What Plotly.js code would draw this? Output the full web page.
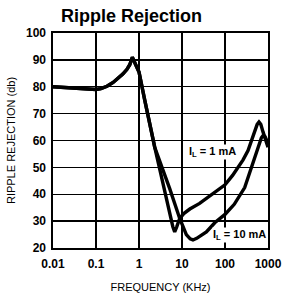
<!DOCTYPE html>
<html>
<head>
<meta charset="utf-8">
<script src="https://cdn.plot.ly/plotly-3.0.1.min.js"></script>
<style>html,body{margin:0;padding:0;background:#fff;}#chart{width:282px;height:295px;}</style>
</head>
<body>
<div id="chart"></div>
<script>
// Frequency (kHz) and ripple rejection (dB)
const freq1mA = [0.01, 0.05, 0.1, 0.13, 0.18, 0.25, 0.33, 0.42, 0.52, 0.61, 0.70, 1.0, 1.36, 1.77, 2.32, 6.1, 6.76, 7.5, 8.85, 11, 15.2, 25.7, 57.7, 100, 150, 200, 263, 343, 470, 560, 617, 680, 766, 1000];
const rej1mA  = [80, 79.5, 79, 79.3, 80.2, 81.6, 83.1, 84.7, 86.4, 88.2, 91, 85.5, 75, 66.3, 57.5, 28, 26, 27.8, 31, 32.8, 34.5, 36.6, 40.6, 43.5, 47, 50, 52.8, 56.25, 62.5, 66, 66.9, 66, 63.2, 57.5];

const freq10mA = [0.01, 0.05, 0.1, 0.13, 0.18, 0.25, 0.33, 0.42, 0.52, 0.61, 0.70, 1.0, 1.36, 1.77, 2.32, 5.2, 8.85, 12.6, 15.5, 18, 22, 36.9, 57.7, 100, 164, 287, 411, 537, 702, 780, 850, 1000];
const rej10mA  = [80, 79.5, 79, 79.3, 80.2, 81.6, 83.1, 84.7, 86.4, 88.2, 91, 85.5, 75, 66.3, 57.5, 42, 31, 25, 23.4, 23, 23.6, 26, 29.4, 32.5, 36.25, 42.5, 50, 56.25, 61, 62, 61.5, 59];

const xTickVals = [0.01, 0.1, 1, 10, 100, 1000];
const xTickText = ['0.01', '0.1', '1', '10', '100', '1000'];
const yTickVals = [20, 30, 40, 50, 60, 70, 80, 90, 100];

const labels = [
  {text: 'I<sub>L</sub> = 1 mA', x: 51.8, y: 55.6},
  {text: 'I<sub>L</sub> = 10 mA', x: 222, y: 24.9}
];

const lineStyle = {color: '#000', width: 3.4};
const traces = [
  {x: freq1mA, y: rej1mA, mode: 'lines', line: lineStyle, name: 'IL = 1 mA', hoverinfo: 'skip'},
  {x: freq10mA, y: rej10mA, mode: 'lines', line: lineStyle, name: 'IL = 10 mA', hoverinfo: 'skip'}
];

const font = 'Liberation Sans, Arial, sans-serif';
const layout = {
  width: 282, height: 295,
  margin: {l: 53, r: 14, t: 33, b: 47},
  paper_bgcolor: '#fff', plot_bgcolor: '#fff',
  showlegend: false,
  font: {family: font, color: '#000'},
  title: {text: 'Ripple Rejection', font: {family: font, size: 18, weight: 'bold', color: '#000'},
          xref: 'container', yref: 'container', x: 0.466, xanchor: 'center', y: 0.948, yanchor: 'middle'},
  xaxis: {
    type: 'log', range: [-2, 3],
    tickvals: xTickVals, ticktext: xTickText,
    showgrid: true, gridcolor: '#000', gridwidth: 1.3,
    showline: true, linecolor: '#000', linewidth: 1.6, mirror: true,
    zeroline: false, ticks: '', ticklabelstandoff: 4,
    tickfont: {family: font, size: 12, weight: 'bold', color: '#000'},
    title: {text: 'FREQUENCY (KHz)', font: {family: font, size: 11, color: '#000'}, standoff: 13}
  },
  yaxis: {
    range: [20, 100],
    tickvals: yTickVals,
    showgrid: true, gridcolor: '#000', gridwidth: 1.3,
    showline: true, linecolor: '#000', linewidth: 1.6, mirror: true,
    zeroline: false, ticks: '', ticklabelstandoff: 3,
    tickfont: {family: font, size: 12, weight: 'bold', color: '#000'},
    title: {text: 'RIPPLE REJECTION (db)', font: {family: font, size: 11, color: '#000'}, standoff: 8}
  },
  annotations: labels.map(l => ({
    text: l.text, x: Math.log10(l.x), y: l.y, xref: 'x', yref: 'y',
    showarrow: false, bgcolor: '#fff', borderpad: 0,
    font: {family: font, size: 11, weight: 'bold', color: '#000'}
  }))
};

Plotly.newPlot('chart', traces, layout, {staticPlot: true, displayModeBar: false});
</script>
</body>
</html>
